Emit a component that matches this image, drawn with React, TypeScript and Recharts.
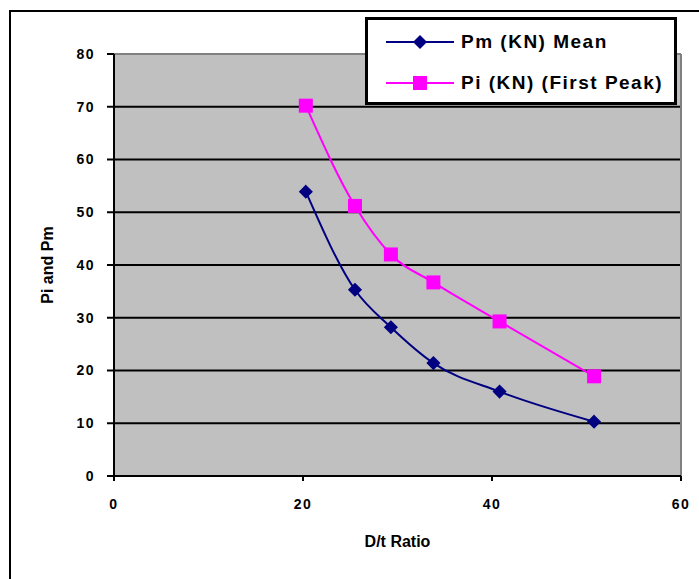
import {
  CartesianGrid,
  Line,
  LineChart,
  ReferenceLine,
  XAxis,
  YAxis,
} from "recharts";

const ratio = [20.3, 25.5, 29.3, 33.8, 40.8, 50.8];
const pmMean = [53.9, 35.3, 28.2, 21.4, 16.0, 10.3];
const piFirstPeak = [70.2, 51.2, 42.0, 36.7, 29.3, 18.9];
const xTicks = [0, 20, 40, 60];
const yTicks = [0, 10, 20, 30, 40, 50, 60, 70, 80];

const data = ratio.map((r, i) => ({ r, pm: pmMean[i], pi: piFirstPeak[i] }));

const NAVY = "#000080";
const PINK = "#ff00ff";
const FONT = "'Liberation Sans', Arial, sans-serif";

const tickStyle = { fill: "#000", fontSize: 14, fontWeight: 700, fontFamily: FONT, letterSpacing: 1.5 };

function Diamond({ cx, cy, color }: { cx?: number; cy?: number; color: string }) {
  if (cx == null || cy == null) return null;
  const r = 6;
  return (
    <polygon
      points={`${cx},${cy - r} ${cx + r},${cy} ${cx},${cy + r} ${cx - r},${cy}`}
      fill={color}
      stroke={color}
      strokeWidth={1.5}
    />
  );
}

function Square({ cx, cy, color }: { cx?: number; cy?: number; color: string }) {
  if (cx == null || cy == null) return null;
  return <rect x={cx - 7} y={cy - 7} width={14} height={14} fill={color} />;
}

function LegendBox() {
  const rows = [
    { label: "Pm (KN) Mean", color: NAVY, square: false },
    { label: "Pi (KN) (First Peak)", color: PINK, square: true },
  ];
  return (
    <div
      style={{
        position: "absolute",
        left: 365,
        top: 17,
        width: 312,
        height: 88,
        boxSizing: "border-box",
        border: "3px solid #000",
        background: "#fff",
        paddingTop: 1,
      }}
    >
      {rows.map((row) => (
        <div key={row.label} style={{ display: "flex", alignItems: "center", height: 41 }}>
          <svg width={90} height={20} style={{ marginLeft: 16 }}>
            <line x1={2} y1={10} x2={70} y2={10} stroke={row.color} strokeWidth={2} />
            {row.square ? (
              <rect x={29} y={3} width={14} height={14} fill={row.color} />
            ) : (
              <polygon points="36,3 43,10 36,17 29,10" fill={row.color} />
            )}
          </svg>
          <span
            style={{
              fontFamily: FONT,
              fontSize: 19,
              fontWeight: 700,
              letterSpacing: 1.5,
              color: "#000",
              marginLeft: -13,
              whiteSpace: "nowrap",
            }}
          >
            {row.label}
          </span>
        </div>
      ))}
    </div>
  );
}

export default function App() {
  return (
    <div style={{ position: "absolute", left: 0, top: 0, width: 699, height: 579, background: "#fff", overflow: "hidden" }}>
      <div
        style={{
          position: "absolute",
          left: 9,
          top: 10,
          width: 720,
          height: 600,
          borderLeft: "2px solid #000",
          borderTop: "2px solid #000",
        }}
      />
      <LineChart
        width={699}
        height={579}
        data={data}
        margin={{ top: 54, right: 18, left: 10, bottom: 43 }}
        style={{ position: "absolute", left: 0, top: 0 }}
      >
        <CartesianGrid vertical={false} fill="#c0c0c0" stroke="#000" strokeWidth={2} />
        <ReferenceLine y={80} stroke="#808080" strokeWidth={2} />
        <ReferenceLine x={60} stroke="#808080" strokeWidth={2} />
        <XAxis
          type="number"
          dataKey="r"
          domain={[0, 60]}
          ticks={xTicks}
          height={60}
          tickSize={5}
          tickMargin={18}
          tick={tickStyle}
          axisLine={{ stroke: "#000", strokeWidth: 2 }}
          tickLine={{ stroke: "#000", strokeWidth: 2 }}
          label={{
            content: ({ viewBox }: any) => (
              <text
                x={viewBox.x + viewBox.width / 2}
                y={viewBox.y + 71}
                textAnchor="middle"
                fontFamily={FONT}
                fontSize={16}
                fontWeight={700}
                fill="#000"
              >
                D/t Ratio
              </text>
            ),
          }}
        />
        <YAxis
          type="number"
          domain={[0, 80]}
          ticks={yTicks}
          width={104}
          tickSize={7}
          tickMargin={12}
          tick={tickStyle}
          axisLine={{ stroke: "#000", strokeWidth: 2 }}
          tickLine={{ stroke: "#000", strokeWidth: 2 }}
          label={{
            content: ({ viewBox }: any) => {
              const cx = 47;
              const cy = viewBox.y + viewBox.height / 2;
              return (
                <text
                  x={cx}
                  y={cy}
                  transform={`rotate(-90 ${cx} ${cy})`}
                  textAnchor="middle"
                  dominantBaseline="central"
                  fontFamily={FONT}
                  fontSize={16}
                  fontWeight={700}
                  fill="#000"
                >
                  Pi and Pm
                </text>
              );
            },
          }}
        />
        <Line
          type="monotone"
          dataKey="pm"
          name="Pm (KN) Mean"
          stroke={NAVY}
          strokeWidth={2}
          dot={(p: any) => <Diamond key={`d${p.index}`} cx={p.cx} cy={p.cy} color={NAVY} />}
          isAnimationActive={false}
        />
        <Line
          type="monotone"
          dataKey="pi"
          name="Pi (KN) (First Peak)"
          stroke={PINK}
          strokeWidth={2}
          dot={(p: any) => <Square key={`s${p.index}`} cx={p.cx} cy={p.cy} color={PINK} />}
          isAnimationActive={false}
        />
      </LineChart>
      <LegendBox />
    </div>
  );
}
